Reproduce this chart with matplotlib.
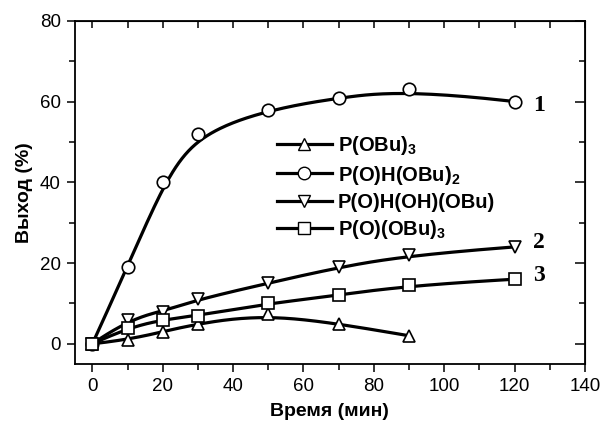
import numpy as np
import matplotlib
matplotlib.use("Agg")
import matplotlib.pyplot as plt
from matplotlib.lines import Line2D
from matplotlib.ticker import MultipleLocator

plt.rcParams['font.family'] = ['Liberation Sans', 'DejaVu Sans']
plt.rcParams['mathtext.fontset'] = 'custom'
plt.rcParams['mathtext.bf'] = 'Liberation Sans:bold'
plt.rcParams['mathtext.rm'] = 'Liberation Sans:bold'

# data
t_main = [0, 10, 20, 30, 50, 70, 90, 120]
t_tri = [0, 10, 20, 30, 50, 70, 90]
y_pobu3 = [0, 1, 3, 5, 7.5, 5, 2]
y_phobu2 = [0, 19, 40, 52, 58, 61, 63, 60]
y_phohobu = [0, 6, 8, 11, 15, 19, 22, 24]
y_poobu3 = [0, 4, 6, 7, 10, 12, 14.5, 16]

labels = [r'P(OBu)$_\mathbf{3}$', r'P(O)H(OBu)$_\mathbf{2}$',
          'P(O)H(OH)(OBu)', r'P(O)(OBu)$_\mathbf{3}$']
markers = ['^', 'o', 'v', 's']


def bspline(xs, ys, n=200):
    # clamped cubic B-spline using the data points as control points
    P = np.column_stack([xs, ys]).astype(float)
    m = len(P)
    k = 3
    inner = np.arange(1, m - k)
    knots = np.concatenate([[0] * (k + 1), inner, [m - k] * (k + 1)]).astype(float)
    u = np.linspace(0, m - k, n)
    u[-1] -= 1e-9
    # Cox-de Boor
    N = np.zeros((n, len(knots) - 1))
    for i in range(len(knots) - 1):
        N[:, i] = (u >= knots[i]) & (u < knots[i + 1])
    for d in range(1, k + 1):
        Nn = np.zeros((n, len(knots) - 1 - d))
        for i in range(len(knots) - 1 - d):
            a = knots[i + d] - knots[i]
            b = knots[i + d + 1] - knots[i + 1]
            t1 = (u - knots[i]) / a * N[:, i] if a > 0 else 0
            t2 = (knots[i + d + 1] - u) / b * N[:, i + 1] if b > 0 else 0
            Nn[:, i] = t1 + t2
        N = Nn
    C = N @ P
    return C[:, 0], C[:, 1]


fig = plt.figure(figsize=(6.03, 4.25), dpi=100)
ax = fig.add_axes([0.124, 0.1435, 0.846, 0.8075])

series = [(t_tri, y_pobu3), (t_main, y_phobu2), (t_main, y_phohobu), (t_main, y_poobu3)]
handles = []
for (xs, ys), mk, lab in zip(series, markers, labels):
    cx, cy = bspline(xs, ys)
    ax.plot(cx, cy, color='black', lw=2.3, zorder=2, solid_capstyle='butt')
    ax.plot(xs, ys, linestyle='none', marker=mk, ms=9, mfc='white',
            mec='black', mew=1.2, zorder=3)
    handles.append(Line2D([], [], color='black', lw=2.3, marker=mk, ms=9,
                          mfc='white', mec='black', mew=1.0))

ax.set_xlim(-5, 140)
ax.set_ylim(-5, 80)
ax.xaxis.set_major_locator(MultipleLocator(20))
ax.xaxis.set_minor_locator(MultipleLocator(10))
ax.yaxis.set_major_locator(MultipleLocator(20))
ax.yaxis.set_minor_locator(MultipleLocator(10))
ax.tick_params(which='major', direction='out', length=6, width=1.1, labelsize=13.5, pad=4)
ax.tick_params(which='minor', direction='out', length=4, width=1.1)
for s in ax.spines.values():
    s.set_linewidth(1.3)

top = ax.secondary_xaxis('top')
top.xaxis.set_major_locator(MultipleLocator(20))
top.xaxis.set_minor_locator(MultipleLocator(10))
top.tick_params(which='both', direction='in', length=5, width=1.1, labeltop=False)
right = ax.secondary_yaxis('right')
right.yaxis.set_major_locator(MultipleLocator(20))
right.yaxis.set_minor_locator(MultipleLocator(10))
right.tick_params(which='major', direction='in', length=7, width=1.1, labelright=False)
right.tick_params(which='minor', direction='in', length=4, width=1.1)

ax.set_xlabel('Время (мин)', fontsize=14, fontweight='bold', labelpad=6)
ax.set_ylabel('Выход (%)', fontsize=14, fontweight='bold', labelpad=5)

leg = ax.legend(handles, labels, loc='upper left', bbox_to_anchor=(0.397, 0.67),
                frameon=False, handlelength=2.7, handletextpad=0.3,
                labelspacing=0.32, borderpad=0, borderaxespad=0,
                prop={'weight': 'bold', 'size': 14.5})

for txt, yv in zip(['1', '2', '3'], [59, 25, 17]):
    ax.text(127, yv, txt, fontsize=17, fontweight='bold', family='Liberation Serif',
            ha='center', va='center')

fig.savefig('out.png', dpi=100)
